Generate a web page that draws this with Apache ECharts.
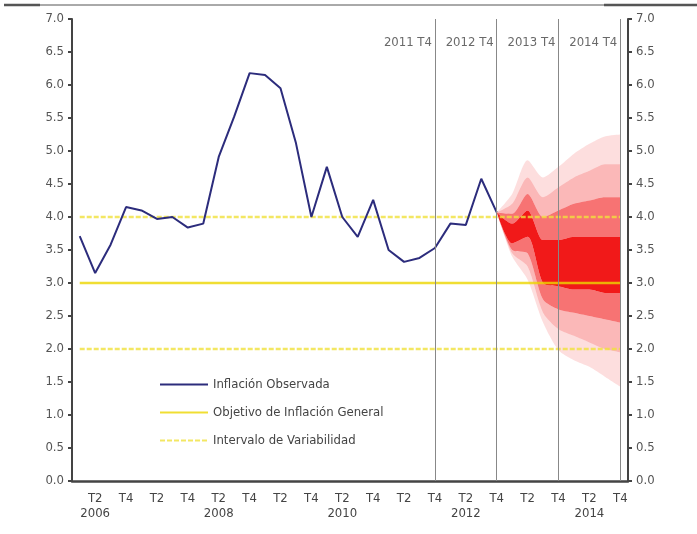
<!DOCTYPE html>
<html>
<head>
<meta charset="utf-8">
<script src="https://cdn.jsdelivr.net/npm/echarts@6/dist/echarts.min.js"></script>
<style>html,body{margin:0;padding:0;background:#fff}#c{width:697px;height:534px}</style>
</head>
<body>
<div id="c"></div>
<script>
// Quarterly categories 2006 T1 .. 2014 T4
const categories = [
  '2006 T1','2006 T2','2006 T3','2006 T4','2007 T1','2007 T2','2007 T3','2007 T4',
  '2008 T1','2008 T2','2008 T3','2008 T4','2009 T1','2009 T2','2009 T3','2009 T4',
  '2010 T1','2010 T2','2010 T3','2010 T4','2011 T1','2011 T2','2011 T3','2011 T4',
  '2012 T1','2012 T2','2012 T3','2012 T4','2013 T1','2013 T2','2013 T3','2013 T4',
  '2014 T1','2014 T2','2014 T3','2014 T4'
];
// Observed inflation (2006 T1 .. 2012 T4)
const observed = [3.71, 3.15, 3.58, 4.15, 4.10, 3.97, 4.00, 3.84, 3.90, 4.91, 5.52, 6.18,
  6.15, 5.95, 5.12, 4.00, 4.76, 4.00, 3.70, 4.26, 3.50, 3.32, 3.38, 3.53,
  3.90, 3.88, 4.58, 4.07];
const targetValue = 3.0;
const bandUpper = 4.0;
const bandLower = 2.0;
// Fan chart bounds, 2012 T4 .. 2014 T4
const fanStart = '2012 T4';
const U4 = [4.07, 4.35, 4.86, 4.60, 4.76, 4.96, 5.11, 5.22, 5.25];
const U3 = [4.07, 4.20, 4.60, 4.30, 4.45, 4.60, 4.70, 4.80, 4.80];
const U2 = [4.07, 4.05, 4.35, 4.00, 4.10, 4.20, 4.25, 4.30, 4.30];
const U1 = [4.07, 3.90, 4.10, 3.65, 3.65, 3.70, 3.70, 3.70, 3.70];
const L1 = [4.07, 3.60, 3.70, 3.00, 2.95, 2.90, 2.90, 2.85, 2.85];
const L2 = [4.07, 3.50, 3.45, 2.75, 2.60, 2.55, 2.50, 2.45, 2.40];
const L3 = [4.07, 3.45, 3.25, 2.55, 2.30, 2.20, 2.10, 2.00, 1.95];
const L4 = [4.07, 3.40, 3.05, 2.40, 1.98, 1.83, 1.73, 1.58, 1.43];
// Vertical reference lines and their labels
const refQuarters = ['2011 T4', '2012 T4', '2013 T4', '2014 T4'];
const refLabelY = 6.64;

const FONT = "'DejaVu Sans Condensed','Liberation Sans Narrow',sans-serif";
const startIdx = categories.indexOf(fanStart);
const pad = (arr) => categories.map((c, i) => (i >= startIdx && i - startIdx < arr.length) ? arr[i - startIdx] : null);
const diff = (a, b) => a.map((v, i) => +(v - b[i]).toFixed(3));

const layers = [
  {base: L4, top: L3, a: 0.13},
  {base: L3, top: L2, a: 0.28},
  {base: L2, top: L1, a: 0.55},
  {base: L1, top: U1, a: 0.9},
  {base: U1, top: U2, a: 0.55},
  {base: U2, top: U3, a: 0.28},
  {base: U3, top: U4, a: 0.13}
];
const fanSeries = [{
  name: 'fanbase', type: 'line', stack: 'fan', data: pad(L4), symbol: 'none', smooth: 0.25,
  lineStyle: {width: 0, opacity: 0}, silent: true, z: 1
}];
layers.forEach((l, k) => {
  fanSeries.push({
    name: 'fan' + k, type: 'line', stack: 'fan', data: pad(diff(l.top, l.base)), symbol: 'none', smooth: 0.25,
    lineStyle: {width: 0, opacity: 0}, areaStyle: {color: 'rgba(240,0,0,' + l.a + ')', opacity: 1},
    silent: true, z: 1
  });
});

const chart = echarts.init(document.getElementById('c'));
chart.setOption({
  animation: false,
  backgroundColor: '#fff',
  textStyle: {fontFamily: FONT},
  grid: {left: 72, right: 69, top: 19, bottom: 53},
  legend: {
    data: [
      {name: 'Inflación Observada'},
      {name: 'Objetivo de Inflación General'},
      {name: 'Intervalo de Variabilidad'}
    ],
    orient: 'vertical', left: 154, top: 373, itemGap: 15, itemWidth: 48, itemHeight: 12,
    itemStyle: {opacity: 0},
    textStyle: {fontFamily: FONT, fontSize: 13, color: '#444'}
  },
  xAxis: {
    type: 'category', data: categories, boundaryGap: true,
    axisLine: {lineStyle: {color: '#444', width: 2.5}},
    axisTick: {show: false},
    axisLabel: {
      interval: (i) => i % 2 === 1,
      fontFamily: FONT, fontSize: 13, color: '#444', lineHeight: 15, margin: 10,
      formatter: (v) => {
        const [y, q] = v.split(' ');
        return (q === 'T2' && (+y) % 2 === 0) ? q + '\n' + y : q;
      }
    },
    splitLine: {show: false}
  },
  yAxis: [
    {type: 'value', min: 0, max: 7, interval: 0.5, position: 'left',
     axisLine: {show: true, lineStyle: {color: '#444', width: 2}},
     axisTick: {show: true, length: 4, lineStyle: {color: '#444', width: 2}},
     axisLabel: {formatter: (v) => v.toFixed(1), fontFamily: FONT, fontSize: 13, color: '#555', margin: 8},
     splitLine: {show: false}},
    {type: 'value', min: 0, max: 7, interval: 0.5, position: 'right',
     axisLine: {show: true, lineStyle: {color: '#444', width: 2}},
     axisTick: {show: true, length: 4, lineStyle: {color: '#444', width: 2}},
     axisLabel: {formatter: (v) => v.toFixed(1), fontFamily: FONT, fontSize: 13, color: '#555', margin: 8},
     splitLine: {show: false}}
  ],
  graphic: [
    {type: 'line', shape: {x1: 4, y1: 5, x2: 40, y2: 5}, style: {stroke: '#555', lineWidth: 2.5}},
    {type: 'line', shape: {x1: 40, y1: 5, x2: 604, y2: 5}, style: {stroke: '#555', lineWidth: 1}},
    {type: 'line', shape: {x1: 604, y1: 5, x2: 697, y2: 5}, style: {stroke: '#555', lineWidth: 2.5}}
  ],
  series: [
    ...fanSeries,
    {
      name: 'Objetivo de Inflación General', type: 'line', data: categories.map(() => targetValue),
      symbol: 'none', lineStyle: {color: 'rgba(236,214,0,0.8)', width: 2.5}, itemStyle: {color: '#ecd600'}, z: 3
    },
    {
      name: 'Intervalo de Variabilidad', type: 'line', data: categories.map(() => bandUpper),
      symbol: 'none', lineStyle: {color: 'rgba(240,225,60,0.8)', width: 2.5, type: [5, 2]}, itemStyle: {color: '#f0e13c'}, z: 3
    },
    {
      name: 'Intervalo de Variabilidad', type: 'line', data: categories.map(() => bandLower),
      symbol: 'none', lineStyle: {color: 'rgba(240,225,60,0.8)', width: 2.5, type: [5, 2]}, itemStyle: {color: '#f0e13c'}, z: 3
    },
    {
      name: 'Inflación Observada', type: 'line', data: observed, symbol: 'none',
      lineStyle: {color: '#2c2c7c', width: 2}, itemStyle: {color: '#2c2c7c'}, z: 4,
      markLine: {
        silent: true, symbol: 'none', animation: false,
        lineStyle: {color: '#888', width: 1, type: 'solid'},
        label: {show: false},
        data: refQuarters.map(q => ({xAxis: q}))
      }
    },
    {
      name: 'refLabels', type: 'scatter', symbolSize: 0, silent: true,
      data: refQuarters.map(q => [q, refLabelY]),
      label: {show: true, position: 'left', distance: 3, formatter: (p) => p.value[0],
              fontFamily: FONT, fontSize: 13, color: '#444'},
      z: 5
    }
  ]
});
</script>
</body>
</html>
